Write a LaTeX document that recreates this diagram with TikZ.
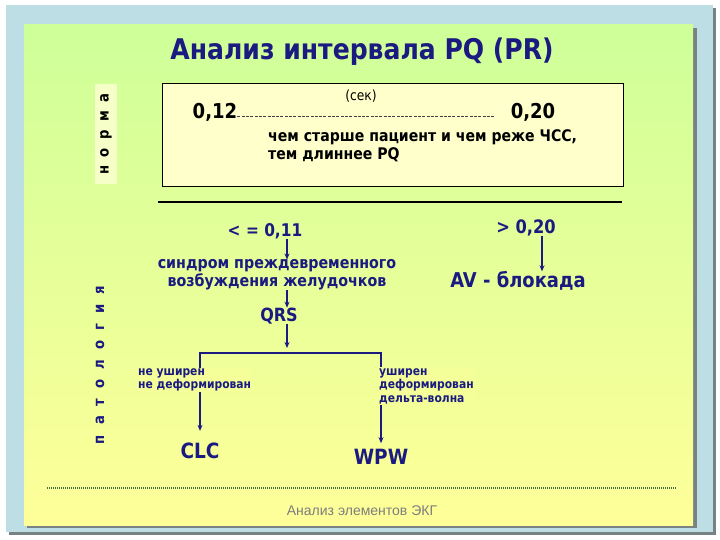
\documentclass[tikz,border=0pt]{standalone}
\usepackage{fontspec}
\setmainfont{DejaVu Sans}[FakeStretch=0.88]
\newfontfamily\footfont{Liberation Sans}
\usetikzlibrary{arrows.meta,calc}
\definecolor{ttlblue}{RGB}{26,26,128}
\definecolor{frameblue}{RGB}{188,222,228}
\definecolor{shadowgray}{RGB}{120,130,130}
\definecolor{gtop}{RGB}{206,255,153}
\definecolor{gbot}{RGB}{255,255,153}
\definecolor{boxfill}{RGB}{255,255,204}
\definecolor{normbg}{RGB}{246,255,200}
\definecolor{labelbg}{RGB}{244,255,153}
\definecolor{dotgreen}{RGB}{70,105,70}
\definecolor{footgray}{RGB}{125,125,125}
\tikzset{
  txt/.style={inner sep=0pt, text=ttlblue},
  ttl/.style={txt, font=\fontsize{28.5}{32}\selectfont\bfseries},
  blk/.style={inner sep=0pt, text=black},
  num/.style={blk, font=\fontsize{20.5}{22}\selectfont\bfseries},
  note/.style={blk, font=\fontsize{16}{18}\selectfont\bfseries, align=left},
  mid/.style={txt, font=\fontsize{17.5}{20}\selectfont\bfseries},
  syn/.style={txt, font=\fontsize{16.2}{18}\selectfont\bfseries, align=center},
  big/.style={txt, font=\fontsize{21}{24}\selectfont\bfseries},
  lbl/.style={txt, font=\fontsize{12.2}{13.5}\selectfont\bfseries, align=left, fill=labelbg, inner sep=1pt},
  arr/.style={draw=ttlblue, line width=1.3pt, -{Stealth[length=6pt,width=5pt]}},
}
\begin{document}
\begin{tikzpicture}[x=1pt,y=-1pt]
\useasboundingbox (0,0) rectangle (720,540);
\fill[white] (0,0) rectangle (720,540);
% outer frame with shadow
\fill[shadowgray] (9,8) rectangle (716,535);
\fill[frameblue] (6,5) rectangle (713,532);
% inner panel with shadow
\fill[shadowgray] (27,28) rectangle (697,528);
\shade[top color=gtop, bottom color=gbot] (24,25) rectangle (693,525);

% title
\node[ttl] (title) at (362,52) {Анализ интервала PQ (PR)};

% norma label
\node[blk, fill=normbg, rotate=90, minimum width=100pt, minimum height=22pt,
      font=\fontsize{15}{17}\selectfont\bfseries] (norm) at (106,134)
      {н\hspace{8.5pt}о\hspace{8.5pt}р\hspace{8.5pt}м\hspace{8.5pt}а};

% norm box
\node[draw=black, line width=0.9pt, fill=boxfill, minimum width=461pt, minimum height=103pt, inner sep=0pt] (nbox) at (392.5,134.5) {};
\node[blk, font=\fontsize{14}{16}\selectfont] (sek) at (361,96) {(сек)};
\node[num] (n012) at (215,112) {0,12};
\node[num] (n020) at (533,112) {0,20};
\coordinate (dashend) at (495,116);
\draw[black!75, line width=0.5pt, dash pattern=on 3pt off 1.3pt] (n012.east |- dashend) -- (dashend);
\node[note, anchor=west] (older) at (268,146) {чем старше пациент и чем реже ЧСС,\\тем длиннее PQ};

% separator
\coordinate (sep1) at (158,202);
\coordinate (sep2) at (622,202);
\draw[black, line width=2.4pt] (sep1) -- (sep2);

% pathology label
\node[txt, rotate=90, font=\fontsize{15}{17}\selectfont\bfseries] (patho) at (100,365)
      {п\hspace{10pt}а\hspace{10pt}т\hspace{10pt}о\hspace{10pt}л\hspace{10pt}о\hspace{10pt}г\hspace{10pt}и\hspace{10pt}я};

% left branch
\node[mid] (lt) at (265,231) {< = 0,11};
\node[syn] (syn) at (277,275) {синдром преждевременного\\возбуждения желудочков};
\node[txt, font=\fontsize{18.2}{20}\selectfont\bfseries] (qrs) at (279,316) {QRS};
\coordinate (ax) at (287,0);
\draw[arr] (lt.south -| ax) -- (syn.north -| ax);
\draw[arr] (syn.south -| ax) -- (qrs.north -| ax);
\coordinate (brmid) at (287,353);
\draw[arr, shorten >=5pt] (qrs.south -| ax) -- (brmid);

% right branch
\node[txt, font=\fontsize{18.5}{20}\selectfont\bfseries] (gt) at (526,228) {> 0,20};
\node[txt, font=\fontsize{20.4}{22}\selectfont\bfseries] (av) at (518,281) {AV  - блокада};
\coordinate (bx) at (542,0);
\draw[arr] (gt.south -| bx) -- (av.north -| bx);

% CLC / WPW
\node[big] (clc) at (200,451) {CLC};
\node[big] (wpw) at (381,457) {WPW};
\draw[arr, shorten >=12pt] (brmid) -| (clc);
\draw[arr, shorten >=6pt] (brmid) -| (wpw);
\node[lbl, anchor=west] (nw) at (137,380) {не уширен\\не деформирован};
\node[lbl, anchor=west] (yw) at (378,386) {уширен\\деформирован\\дельта-волна};

% footer
\coordinate (dl1) at (47,488);
\coordinate (dl2) at (677,488);
\draw[dotgreen, line width=1.8pt, dash pattern=on 1pt off 1pt] (dl1) -- (dl2);
\node[inner sep=0pt, text=footgray, font=\footfont\fontsize{14}{16}\selectfont] (foot) at (362,511) {Анализ элементов ЭКГ};
\end{tikzpicture}
\end{document}
